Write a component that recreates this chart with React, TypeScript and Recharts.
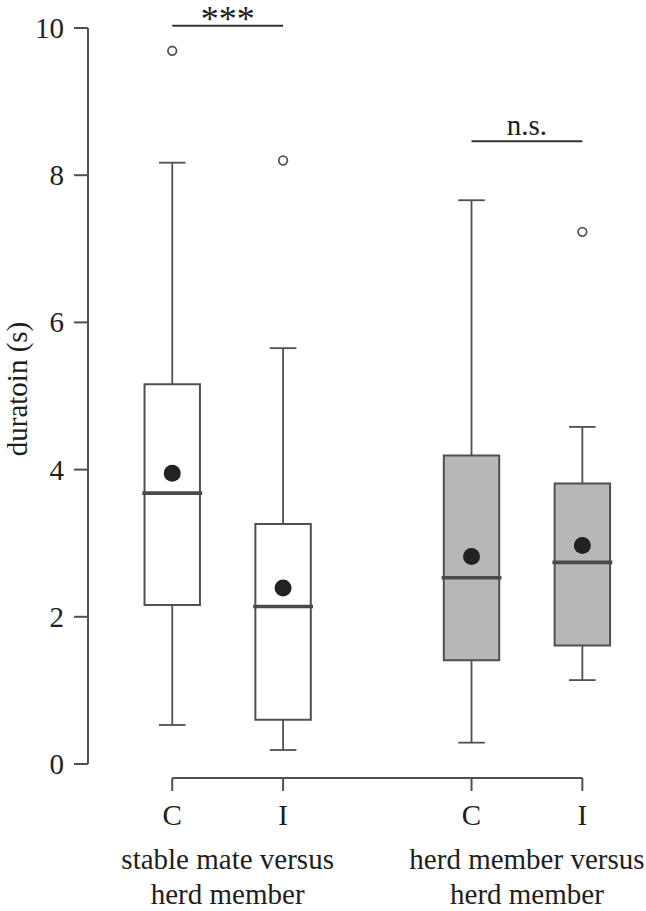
import React from 'react';
import {
  ComposedChart,
  XAxis,
  YAxis,
  ReferenceArea,
  ReferenceLine,
  Scatter,
  Label,
} from 'recharts';

// ---- data ----
const categories = ['C', 'I', 'C', 'I'];
const groupLabels = [
  ['stable mate versus', 'herd member'],
  ['herd member versus', 'herd member'],
];
const whiskerLow = [0.53, 0.19, 0.29, 1.14];
const q1 = [2.16, 0.6, 1.41, 1.61];
const median = [3.68, 2.14, 2.53, 2.74];
const q3 = [5.16, 3.26, 4.19, 3.81];
const whiskerHigh = [8.17, 5.65, 7.66, 4.58];
const means = [3.95, 2.39, 2.82, 2.97];
const outliers = [[9.69], [8.2], [], [7.23]];
const yTicks = [0, 2, 4, 6, 8, 10];
const sigLabels = ['***', 'n.s.'];
const sigLevels = [10.03, 8.46];
const boxFill = ['#ffffff', '#ffffff', '#b7b7b7', '#b7b7b7'];

// ---- layout ----
const SLOT_X = [1, 2, 3.7, 4.7];
const GROUP_X = [1.5, 4.2];
const SIG_PAIRS = [
  [0, 1],
  [2, 3],
];
const SIG_FONT = [36, 29];
const SIG_OFFSET = [-5, 6];
const X_DOMAIN: [number, number] = [0.24, 5.22];
const BOX_HALF = 0.25;
const CAP_HALF = 0.12;
const MED_HALF = 0.27;
const X_AXIS_LEVEL = -0.19;

const FONT = '"Liberation Serif", "Times New Roman", Times, serif';
const INK = '#1e1e1e';
const LINE = '#505050';
const FS = 29;

const textStyle = { fontFamily: FONT, fontSize: FS, fill: INK };

const meanData = means.map((m, i) => ({ x: SLOT_X[i], y: m }));
const outlierData = outliers.flatMap((arr, i) => arr.map((v) => ({ x: SLOT_X[i], y: v })));
const groupData = GROUP_X.map((g) => ({ x: g, y: null }));

const MeanDot = (props: any) => (
  <circle cx={props.cx} cy={props.cy} r={8.5} fill="#222" />
);
const OutlierDot = (props: any) => (
  <circle cx={props.cx} cy={props.cy} r={4.3} fill="#fff" stroke="#555" strokeWidth={1.8} />
);

const CatTick = (props: any) => {
  const { x, y, payload, index } = props;
  let idx = SLOT_X.indexOf(payload?.value);
  if (idx < 0) idx = index;
  return (
    <text x={x} y={y} textAnchor="middle" style={textStyle}>
      <tspan x={x} dy={30}>{categories[idx]}</tspan>
    </text>
  );
};

const GroupTick = (props: any) => {
  const { x, y, payload, index } = props;
  let idx = GROUP_X.indexOf(payload?.value);
  if (idx < 0) idx = index;
  const lines = groupLabels[idx] || [];
  return (
    <text x={x} y={y} textAnchor="middle" style={textStyle}>
      <tspan x={x} dy={31}>{lines[0]}</tspan>
      <tspan x={x} dy={35}>{lines[1]}</tspan>
    </text>
  );
};

const YTick = (props: any) => {
  const { x, y, payload } = props;
  return (
    <text x={x} y={y} textAnchor="end" dominantBaseline="central" style={textStyle}>
      {payload.value}
    </text>
  );
};

const YLabel = (props: any) => {
  const vb = props.viewBox || {};
  const cx = 17;
  const cy = vb.y + vb.height / 2 - 14;
  return (
    <text
      x={cx}
      y={cy}
      transform={`rotate(-90, ${cx}, ${cy})`}
      textAnchor="middle"
      dominantBaseline="central"
      style={textStyle}
    >
      duratoin (s)
    </text>
  );
};

export default function App() {
  return (
    <div style={{ position: 'absolute', left: 0, top: 0, fontFamily: FONT, background: '#fff' }}>
      <ComposedChart width={646} height={911} margin={{ top: 28, right: 6, bottom: 0, left: 0 }}>
        <XAxis
          xAxisId={0}
          dataKey="x"
          type="number"
          domain={X_DOMAIN}
          allowDataOverflow
          ticks={SLOT_X}
          axisLine={false}
          tickSize={13}
          tickMargin={4}
          tickLine={{ stroke: LINE, strokeWidth: 2 }}
          tick={<CatTick />}
          height={60}
          interval={0}
        />
        <XAxis
          xAxisId={1}
          dataKey="x"
          type="number"
          domain={X_DOMAIN}
          allowDataOverflow
          ticks={GROUP_X}
          axisLine={false}
          tickLine={false}
          tickSize={0}
          tickMargin={0}
          tick={<GroupTick />}
          height={73}
          interval={0}
        />
        <YAxis
          dataKey="y"
          type="number"
          domain={[0, 10]}
          ticks={yTicks}
          padding={{ top: 0, bottom: 14 }}
          width={88}
          axisLine={false}
          tickSize={14}
          tickMargin={10}
          tickLine={{ stroke: LINE, strokeWidth: 2 }}
          tick={<YTick />}
          interval={0}
        >
          <Label content={<YLabel />} />
        </YAxis>

        {/* axis lines */}
        <ReferenceLine
          segment={[
            { x: X_DOMAIN[0], y: yTicks[0] },
            { x: X_DOMAIN[0], y: yTicks[yTicks.length - 1] },
          ]}
          stroke={LINE}
          strokeWidth={2}
          ifOverflow="visible"
        />
        <ReferenceLine
          segment={[
            { x: SLOT_X[0], y: X_AXIS_LEVEL },
            { x: SLOT_X[SLOT_X.length - 1], y: X_AXIS_LEVEL },
          ]}
          stroke={LINE}
          strokeWidth={2}
          ifOverflow="visible"
        />

        {/* boxes */}
        {SLOT_X.map((x, i) => (
          <ReferenceArea
            key={`box-${i}`}
            x1={x - BOX_HALF}
            x2={x + BOX_HALF}
            y1={q1[i]}
            y2={q3[i]}
            fill={boxFill[i]}
            fillOpacity={1}
            stroke={LINE}
            strokeWidth={2}
            ifOverflow="visible"
          />
        ))}

        {/* whiskers */}
        {SLOT_X.map((x, i) => (
          <React.Fragment key={`wh-${i}`}>
            <ReferenceLine
              segment={[{ x, y: q3[i] }, { x, y: whiskerHigh[i] }]}
              stroke={LINE}
              strokeWidth={1.8}
              ifOverflow="visible"
            />
            <ReferenceLine
              segment={[{ x, y: q1[i] }, { x, y: whiskerLow[i] }]}
              stroke={LINE}
              strokeWidth={1.8}
              ifOverflow="visible"
            />
            <ReferenceLine
              segment={[{ x: x - CAP_HALF, y: whiskerHigh[i] }, { x: x + CAP_HALF, y: whiskerHigh[i] }]}
              stroke={LINE}
              strokeWidth={1.8}
              ifOverflow="visible"
            />
            <ReferenceLine
              segment={[{ x: x - CAP_HALF, y: whiskerLow[i] }, { x: x + CAP_HALF, y: whiskerLow[i] }]}
              stroke={LINE}
              strokeWidth={1.8}
              ifOverflow="visible"
            />
            <ReferenceLine
              segment={[{ x: x - MED_HALF, y: median[i] }, { x: x + MED_HALF, y: median[i] }]}
              stroke="#4a4a4a"
              strokeWidth={3.6}
              ifOverflow="visible"
            />
          </React.Fragment>
        ))}

        {/* significance bars */}
        {SIG_PAIRS.map(([a, b], k) => (
          <ReferenceLine
            key={`sig-${k}`}
            segment={[{ x: SLOT_X[a], y: sigLevels[k] }, { x: SLOT_X[b], y: sigLevels[k] }]}
            stroke="#333"
            strokeWidth={2}
            ifOverflow="visible"
            label={{
              value: sigLabels[k],
              position: 'top',
              offset: SIG_OFFSET[k],
              style: { fontFamily: FONT, fontSize: SIG_FONT[k], fill: INK },
            }}
          />
        ))}

        <Scatter data={meanData} dataKey="y" shape={<MeanDot />} isAnimationActive={false} />
        <Scatter data={outlierData} dataKey="y" shape={<OutlierDot />} isAnimationActive={false} />
        <Scatter xAxisId={1} data={groupData} dataKey="y" shape={() => null} isAnimationActive={false} />
      </ComposedChart>
    </div>
  );
}
